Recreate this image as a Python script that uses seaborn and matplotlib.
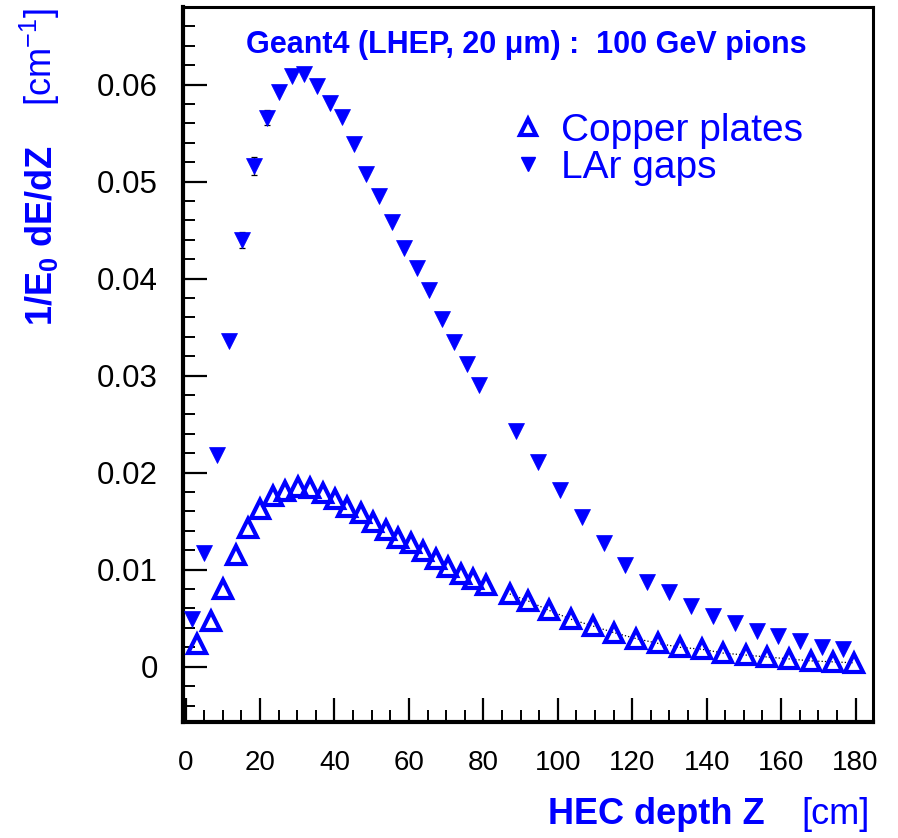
import matplotlib
matplotlib.use("Agg")
import matplotlib.pyplot as plt
from matplotlib.ticker import MultipleLocator
from matplotlib.lines import Line2D
import seaborn as sns
import pandas as pd

# ---- data ----
copper_z = [3.1, 6.7, 10.0, 13.5, 16.8, 20.0, 23.4, 26.8, 30.1, 33.4, 36.8, 40.1,
            43.5, 47.0, 50.4, 53.8, 57.1, 60.5, 63.9, 67.3, 70.6, 73.9, 77.3, 80.6,
            87.1, 91.9, 97.7, 103.5, 109.4, 115.2, 121.0, 127.0, 132.8, 138.7,
            144.5, 150.5, 156.3, 162.2, 168.0, 174.0, 179.6]
copper_val = [0.0023, 0.0047, 0.0080, 0.0115, 0.0143, 0.0163, 0.0176, 0.0181,
              0.0185, 0.0184, 0.0179, 0.0173, 0.0165, 0.0158, 0.0149, 0.0141,
              0.0133, 0.0127, 0.0119, 0.0111, 0.0103, 0.0096, 0.0090, 0.0084,
              0.0075, 0.0068, 0.0058, 0.0049, 0.0042, 0.0035, 0.0029, 0.0024,
              0.0020, 0.0018, 0.0014, 0.0012, 0.0010, 0.0008, 0.0006, 0.0005, 0.0004]

lar_z = [1.6, 4.9, 8.4, 11.7, 15.1, 18.4, 21.8, 25.2, 28.5, 31.8, 35.2, 38.7,
         41.9, 45.2, 48.6, 52.0, 55.4, 58.7, 62.1, 65.4, 68.9, 72.1, 75.5, 78.9,
         88.9, 94.8, 100.6, 106.4, 112.4, 118.1, 124.1, 129.9, 135.8, 141.6,
         147.6, 153.4, 159.3, 165.1, 170.9, 176.7]
lar_val = [0.0049, 0.0117, 0.0218, 0.0336, 0.0440, 0.0516, 0.0566, 0.0592,
           0.0609, 0.0611, 0.0599, 0.0581, 0.0567, 0.0539, 0.0508, 0.0485,
           0.0458, 0.0432, 0.0411, 0.0388, 0.0358, 0.0335, 0.0312, 0.0290,
           0.0243, 0.0211, 0.0182, 0.0154, 0.0128, 0.0105, 0.0087, 0.0077,
           0.0063, 0.0052, 0.0045, 0.0037, 0.0032, 0.0026, 0.0020, 0.0018]
lar_err = [0, 0, 0, 0, 0.0008, 0.0009, 0.0008] + [0] * 33

x_ticks = [0, 20, 40, 60, 80, 100, 120, 140, 160, 180]
y_ticks = [0, 0.01, 0.02, 0.03, 0.04, 0.05, 0.06]
y_tick_labels = ["0", "0.01", "0.02", "0.03", "0.04", "0.05", "0.06"]

title_text = "Geant4 (LHEP, 20 \u03bcm) :  100 GeV pions"
series_labels = ["Copper plates", "LAr gaps"]

copper_df = pd.DataFrame({"z": copper_z, "v": copper_val})
copper_rear_df = copper_df[copper_df["z"] > 85]
lar_df = pd.DataFrame({"z": lar_z, "v": lar_val, "e": lar_err})

# ---- style ----
sns.set_theme(style="white")
plt.rcParams["font.family"] = ["Liberation Sans", "DejaVu Sans"]
plt.rcParams["mathtext.fontset"] = "custom"
plt.rcParams["mathtext.rm"] = "Liberation Sans"
plt.rcParams["mathtext.bf"] = "Liberation Sans:bold"
plt.rcParams["mathtext.it"] = "Liberation Sans:italic"

BLUE = "#0000ff"
W, H = 898, 838
fig = plt.figure(figsize=(W / 100, H / 100), dpi=100)
ax = fig.add_axes([183 / W, 1 - 722 / H, (873 - 183) / W, (722 - 7) / H])

# dotted guide through rear copper points (under markers)
sns.lineplot(data=copper_rear_df, x="z", y="v", ax=ax, color="black", lw=0.9,
             linestyle=":", zorder=1, legend=False)

# LAr error bars
ax.errorbar(lar_df["z"], lar_df["v"], yerr=lar_df["e"], fmt="none",
            ecolor="black", elinewidth=0.9, capsize=2.0, capthick=0.9, zorder=2)

sns.lineplot(data=copper_df, x="z", y="v", ax=ax, marker="^", linestyle="",
             markersize=12.5, markerfacecolor="none", markeredgecolor=BLUE,
             markeredgewidth=3.0, color=BLUE, zorder=3, legend=False)
sns.lineplot(data=lar_df, x="z", y="v", ax=ax, marker="v", linestyle="",
             markersize=11.5, markerfacecolor=BLUE, markeredgecolor=BLUE,
             markeredgewidth=0.5, color=BLUE, zorder=4, legend=False)

ax.set_xlim(-0.7, 184.7)
ax.set_ylim(-0.0057, 0.068)
ax.set_xticks(x_ticks)
ax.set_xticklabels([str(t) for t in x_ticks])
ax.set_yticks(y_ticks)
ax.set_yticklabels(y_tick_labels)
ax.xaxis.set_minor_locator(MultipleLocator(5))
ax.yaxis.set_minor_locator(MultipleLocator(0.002))
ax.set_xlabel("")
ax.set_ylabel("")

ax.tick_params(axis="both", which="major", direction="in", length=17, width=1.6,
               color="black", top=False, right=False, bottom=True, left=True)
ax.tick_params(axis="both", which="minor", direction="in", length=8.5, width=1.4,
               color="black", top=False, right=False, bottom=True, left=True)
ax.tick_params(axis="x", which="major", labelsize=20, pad=20, labelcolor="black")
ax.tick_params(axis="y", which="major", labelsize=22.5, pad=18, labelcolor="black")

for side in ["left", "bottom"]:
    ax.spines[side].set_linewidth(3.0)
for side in ["top", "right"]:
    ax.spines[side].set_linewidth(2.2)
for sp in ax.spines.values():
    sp.set_color("black")
    sp.set_visible(True)
ax.grid(False)

# title
fig.text(526.5 / W, 1 - 45 / H, title_text, ha="center", va="center",
         fontsize=22, fontweight="bold", color=BLUE)

# legend
handles = [
    Line2D([], [], marker="^", linestyle="", markersize=12, markerfacecolor="none",
           markeredgecolor=BLUE, markeredgewidth=3.0),
    Line2D([], [], marker="v", linestyle="", markersize=10, markerfacecolor=BLUE,
           markeredgecolor=BLUE),
]
leg = ax.legend(handles, series_labels, loc="upper left",
                bbox_to_anchor=(512 / W, 1 - 113 / H), bbox_transform=fig.transFigure,
                frameon=False, fontsize=28, handlelength=0.8, handletextpad=0.46,
                labelspacing=0.02, borderpad=0, borderaxespad=0)
for t in leg.get_texts():
    t.set_color(BLUE)

# axis titles
fig.text(765 / W, 1 - 824 / H, "HEC depth Z", ha="right", va="baseline",
         fontsize=26, fontweight="bold", color=BLUE)
fig.text(870 / W, 1 - 824 / H, "[cm]", ha="right", va="baseline",
         fontsize=26, color=BLUE)
fig.text(42 / W, 1 - 326 / H, r"1/E$_\mathbf{0}$ dE/dZ", ha="center", va="bottom",
         rotation=90, fontsize=26, fontweight="bold", color=BLUE)
fig.text(40 / W, 1 - 8 / H, r"[cm$^{\mathrm{-1}}$]", ha="center", va="top",
         rotation=90, fontsize=26, color=BLUE)

fig.savefig("out.png", dpi=100)
